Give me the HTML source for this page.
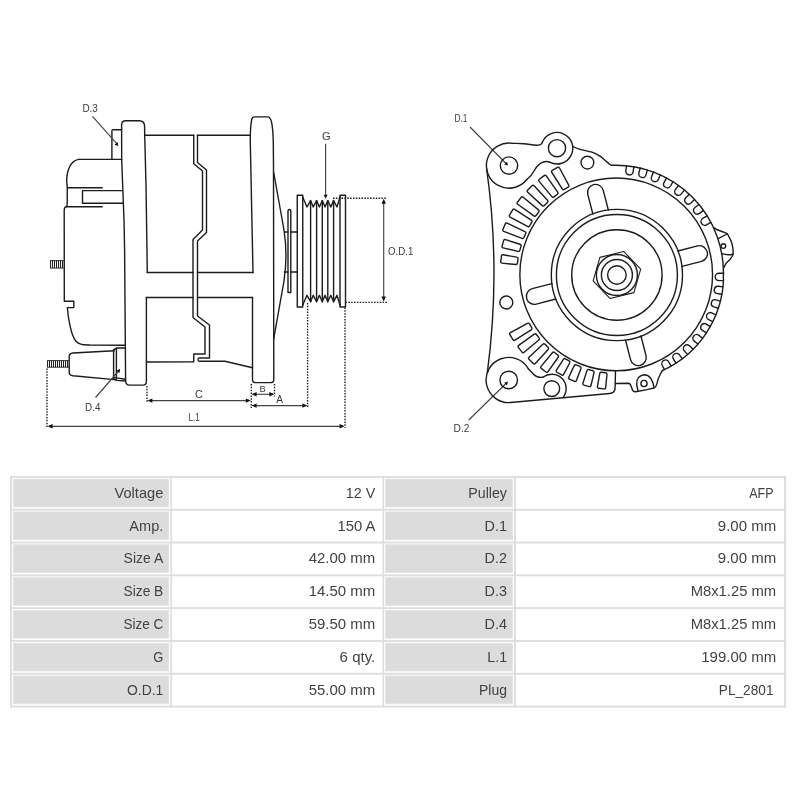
<!DOCTYPE html>
<html><head><meta charset="utf-8"><title>Alternator</title>
<style>
html,body{margin:0;padding:0;background:#fff;}
body{width:800px;height:800px;overflow:hidden;font-family:"Liberation Sans",sans-serif;}
svg{display:block;filter:grayscale(1);}
</style></head><body>
<svg width="800" height="800" viewBox="0 0 800 800">
<rect width="800" height="800" fill="#fff"/>
<g stroke="#1c1c1c" stroke-width="1.4" fill="none" stroke-linejoin="round" stroke-linecap="round">
<path d="M147.3,272.5 L146,185 L144.7,135 L144.6,126.5 Q144.4,120.8 139.4,120.8 L125.6,120.8 Q121.7,120.8 121.6,125 L121.7,160 L124,220 L124.6,250 L125.6,381 Q125.7,385.1 129.6,385.1 L143,385.1 Q146.4,385.1 146.4,381.5 L146.4,297.5" />
<path d="M144.7,135.2 L193.75,135.2 M197.5,135.2 L250.4,135.2" />
<path d="M147.3,272.5 L193,272.5 M197.5,272.5 L253,272.5" />
<path d="M146.3,297.5 L193,297.5 M197.5,297.5 L252.5,297.5" />
<path d="M193.75,135.2 L193.75,163.75 L202.5,171 L202.5,230 L193,239.5 L193,317.5 L205,327 L205,354 L193.75,354 L193.75,361.7 L146.3,362" />
<path d="M197.5,135.2 L197.5,162.5 L206.5,170 L206.5,232.5 L197.5,241 L197.5,316 L209.5,325 L209.5,358 L199.5,358 Q198,358 198,359.7 Q198,361.3 199.5,361.3 L225,361.3 L252.5,367.7" />
<path d="M253,272.5 L250.3,142 Q250.1,128 251.7,119.6 Q252.2,116.9 254.8,116.9 L267.4,116.9 Q270.2,117 271.4,121.5 Q273,128 273.3,142 L273.5,165 L273.8,379.4 Q273.8,382.6 270.4,382.6 L255.8,382.6 Q252.5,382.6 252.5,379.4 L252.5,297.5" />
<path d="M273.6,172 L284.0,230 Q287.9,255.5 284.0,281 L273.7,339" />
<path d="M288,292.5 L288,211 Q288,209.5 289.4,209.5 Q290.8,209.5 290.8,211 L290.8,292.5 Z" />
<path d="M284.6,232 L288,232 M290.8,232 L297.25,232 M284.4,272 L288,272 M290.8,272 L297.25,272" />
<path d="M302.75,197.5 L302.75,195.25 L297.25,195.25 L297.25,307 L302.75,307 L302.75,304.5" />
<path d="M340,197.5 L340,195.25 L345.5,195.25 L345.5,307 L340,307 L340,304.5" />
<path d="M302.75,197.2 L307,207 L310.6,200.6 L313.2,207 L316.6,200.6 L319.4,207 L322.3,200.6 L325,207 L327.8,200.6 L330.8,207 L333.6,200.6 L337,207 L340,197.2" />
<path d="M302.75,305 L307,295.3 L310.6,301.7 L313.2,295.3 L316.6,301.7 L319.4,295.3 L322.3,301.7 L325,295.3 L327.8,301.7 L330.8,295.3 L333.6,301.7 L337,295.3 L340,305" />
<path d="M302.75,197.5 L302.75,304.5 M340,197.5 L340,304.5" />
<path d="M310.6,200.6 L310.6,301.7" />
<path d="M316.6,200.6 L316.6,301.7" />
<path d="M322.3,200.6 L322.3,301.7" />
<path d="M327.8,200.6 L327.8,301.7" />
<path d="M333.6,200.6 L333.6,301.7" />
<path d="M121.6,159.4 L78.6,159.4" />
<path d="M78.60,159.40 C76.87,159.77 75.03,160.50 73.60,161.60 C72.17,162.70 71.00,164.18 70.00,166.00 C69.00,167.82 68.15,170.17 67.60,172.50 C67.05,174.83 66.75,177.42 66.70,180.00 C66.65,182.58 67.20,185.67 67.30,188.00  L67.2,205 Q67.1,206.5 66,206.7 Q64.3,207.2 64.2,210.5 L64.3,301.2 L73.8,301.2 L73.8,307.6 L67.4,307.6" />
<path d="M67.40,307.60 C67.57,309.17 67.97,314.02 68.40,317.00 C68.83,319.98 69.33,322.58 70.00,325.50 C70.67,328.42 71.42,331.87 72.40,334.50 C73.38,337.13 74.38,339.65 75.90,341.30 C77.42,342.95 79.15,343.78 81.50,344.40 C83.85,345.02 86.92,344.88 90.00,345.00  L125.3,345.2" />
<path d="M67.3,187.8 L102.2,187.8 M66,206.7 L102.2,206.7" />
<path d="M122.6,190.6 L82.5,190.6 L82.5,203.2 L123.2,203.2" />
<path d="M111.9,159.4 L111.9,131 Q111.7,129.8 113,129.8 L121.8,129.8" />
<path d="M69.2,356.6 Q69.3,353.4 73,353 L114.3,350.7 M69.2,372.4 Q69.3,375.2 73,375.7 L114.3,379.6 M69.2,356.6 L69.2,372.4" />
<path d="M113.6,349.8 L113.6,378.8 M116.4,348 L116.4,380.2 M113.6,349.8 L116.4,348 L125.3,348 M113.6,378.9 L116.4,380.4 L125.6,381 M114.8,377.6 L125.5,379.2" />
</g>
<g stroke="#222" fill="none">
<path d="M50,260.6 L63.8,260.6 M50,268.1 L63.8,268.1" stroke-width="0.9"/>
<path d="M50.50,260.6 L50.50,268.1 M52.50,260.6 L52.50,268.1 M54.50,260.6 L54.50,268.1 M56.50,260.6 L56.50,268.1 M58.50,260.6 L58.50,268.1 M60.50,260.6 L60.50,268.1 M62.50,260.6 L62.50,268.1 " stroke-width="1.05"/>
<path d="M47.2,360.6 L69.2,360.6 M47.2,367.2 L69.2,367.2" stroke-width="0.9"/>
<path d="M47.50,360.6 L47.50,367.2 M49.50,360.6 L49.50,367.2 M51.50,360.6 L51.50,367.2 M53.50,360.6 L53.50,367.2 M55.50,360.6 L55.50,367.2 M57.50,360.6 L57.50,367.2 M59.50,360.6 L59.50,367.2 M61.50,360.6 L61.50,367.2 M63.50,360.6 L63.50,367.2 M65.50,360.6 L65.50,367.2 M67.50,360.6 L67.50,367.2 " stroke-width="1.05"/>
</g>
<g stroke="#1a1a1a" stroke-width="1.35" fill="none" stroke-dasharray="1.5 1.35">
<path d="M47,368.5 L47,428" />
<path d="M345,307.5 L345,428" />
<path d="M147,386 L147,402.5" />
<path d="M251.3,384 L251.3,408" />
<path d="M274.5,384 L274.5,396.5" />
<path d="M307.6,303 L307.6,408" />
<path d="M333,198.2 L386,198.2" />
<path d="M345.5,302.3 L387,302.3" />
</g>
<g stroke="#444" stroke-width="1.15" fill="none">
<path d="M49,426.3 L343,426.3" />
<path d="M149,400.6 L249,400.6" />
<path d="M253,394.3 L273,394.3" />
<path d="M253,405.6 L306,405.6" />
<path d="M383.7,201 L383.7,299" />
<path d="M325.6,143.8 L325.6,196" />
<path d="M92.5,116.4 L117.2,144.2" />
<path d="M95.5,397.5 L119,370.5" />
<path d="M470,127 L506.5,164" />
<path d="M468.8,420 L506.5,383" />
</g>
<path d="M47.60,426.30 L52.60,424.10 L52.60,428.50 Z" fill="#111"/>
<path d="M344.60,426.30 L339.60,428.50 L339.60,424.10 Z" fill="#111"/>
<path d="M147.40,400.60 L152.40,398.40 L152.40,402.80 Z" fill="#111"/>
<path d="M250.80,400.60 L245.80,402.80 L245.80,398.40 Z" fill="#111"/>
<path d="M251.60,394.30 L256.60,392.10 L256.60,396.50 Z" fill="#111"/>
<path d="M274.30,394.30 L269.30,396.50 L269.30,392.10 Z" fill="#111"/>
<path d="M251.60,405.60 L256.60,403.40 L256.60,407.80 Z" fill="#111"/>
<path d="M307.40,405.60 L302.40,407.80 L302.40,403.40 Z" fill="#111"/>
<path d="M383.70,198.80 L385.90,203.80 L381.50,203.80 Z" fill="#111"/>
<path d="M383.70,301.60 L381.50,296.60 L385.90,296.60 Z" fill="#111"/>
<path d="M325.60,198.80 L323.60,194.80 L327.60,194.80 Z" fill="#111"/>
<path d="M118.40,146.00 L114.50,144.66 L117.48,141.99 Z" fill="#111"/>
<path d="M120.20,369.00 L119.42,373.04 L116.35,370.47 Z" fill="#111"/>
<path d="M508.00,165.60 L504.27,164.47 L507.00,161.83 Z" fill="#111"/>
<path d="M508.00,381.60 L506.91,385.34 L504.24,382.63 Z" fill="#111"/>
<g font-family="Liberation Sans, sans-serif" opacity="0.999">
<text x="82.4" y="111.6" font-size="10.4" textLength="15.4" lengthAdjust="spacingAndGlyphs" fill="#3a3a3a">D.3</text>
<text x="85" y="410.8" font-size="10.4" textLength="15.4" lengthAdjust="spacingAndGlyphs" fill="#3a3a3a">D.4</text>
<text x="322" y="139.6" font-size="10.4" textLength="8.6" lengthAdjust="spacingAndGlyphs" fill="#3a3a3a">G</text>
<text x="195" y="397.5" font-size="11.6" textLength="7.8" lengthAdjust="spacingAndGlyphs" fill="#3a3a3a">C</text>
<text x="259.5" y="392.1" font-size="9.8" textLength="6.2" lengthAdjust="spacingAndGlyphs" fill="#3a3a3a">B</text>
<text x="276.2" y="403.3" font-size="10.6" textLength="6.8" lengthAdjust="spacingAndGlyphs" fill="#3a3a3a">A</text>
<text x="188.6" y="421.2" font-size="11.8" textLength="11.2" lengthAdjust="spacingAndGlyphs" fill="#3a3a3a">L.1</text>
<text x="387.9" y="254.6" font-size="10.8" textLength="25.4" lengthAdjust="spacingAndGlyphs" fill="#3a3a3a">O.D.1</text>
<text x="454.4" y="121.6" font-size="10.4" textLength="13" lengthAdjust="spacingAndGlyphs" fill="#3a3a3a">D.1</text>
<text x="453.6" y="431.8" font-size="10.8" textLength="15.8" lengthAdjust="spacingAndGlyphs" fill="#3a3a3a">D.2</text>
</g>
<g stroke="#1c1c1c" stroke-width="1.4" fill="none" stroke-linejoin="round" stroke-linecap="round">
<circle cx="616.9" cy="275.0" r="9.3"/>
<circle cx="616.9" cy="275.0" r="15.5"/>
<circle cx="616.9" cy="275.0" r="20.5"/>
<circle cx="616.9" cy="275.0" r="45.2"/>
<circle cx="616.9" cy="275.0" r="60.5"/>
<circle cx="616.9" cy="275.0" r="65.6"/>
<path d="M623.65,251.45 L640.67,269.07 L633.92,292.62 L610.15,298.55 L593.13,280.93 L599.88,257.38 Z" stroke-width="1.1"/>
<circle cx="616.2" cy="274.4" r="96.35"/>
<path d="M681.94,266.44 L701.58,261.36 A8,8 0 0 0 697.58,245.87 L677.93,250.95" />
<path d="M625.46,340.04 L630.54,359.68 A8,8 0 0 0 646.03,355.68 L640.95,336.03" />
<path d="M551.86,283.56 L532.22,288.64 A8,8 0 0 0 536.22,304.13 L555.87,299.05" />
<path d="M608.34,209.96 L603.26,190.32 A8,8 0 0 0 587.77,194.32 L592.85,213.97" />
<path d="M564.34,189.39 Q563.05,190.15 562.25,188.88 L551.85,172.50 Q551.05,171.23 552.34,170.48 L557.53,167.44 Q558.82,166.69 559.53,168.01 L568.70,185.11 Q569.41,186.43 568.11,187.19 Z" />
<path d="M553.96,196.84 Q552.77,197.75 551.81,196.60 L539.16,181.36 Q538.20,180.21 539.39,179.29 L544.17,175.62 Q545.36,174.70 546.23,175.92 L557.73,192.04 Q558.60,193.26 557.41,194.18 Z" />
<path d="M544.41,205.59 Q543.35,206.66 542.25,205.63 L527.75,192.16 Q526.65,191.14 527.71,190.07 L531.97,185.81 Q533.04,184.75 534.06,185.85 L547.53,200.35 Q548.56,201.45 547.49,202.51 Z" />
<path d="M536.08,215.51 Q535.16,216.70 533.94,215.83 L517.74,204.27 Q516.52,203.40 517.43,202.21 L521.12,197.43 Q522.03,196.24 523.19,197.20 L538.50,209.91 Q539.65,210.87 538.74,212.06 Z" />
<path d="M529.61,225.90 Q528.84,227.19 527.52,226.47 L510.12,217.03 Q508.81,216.31 509.57,215.02 L512.63,209.84 Q513.39,208.55 514.66,209.36 L531.32,220.06 Q532.58,220.87 531.82,222.16 Z" />
<path d="M524.01,237.55 Q523.42,238.93 522.02,238.39 L503.73,231.33 Q502.33,230.79 502.92,229.41 L505.29,223.90 Q505.88,222.52 507.23,223.16 L524.95,231.54 Q526.31,232.18 525.72,233.56 Z" />
<path d="M519.83,250.33 Q519.43,251.78 517.97,251.43 L503.18,247.91 Q501.72,247.56 502.12,246.12 L503.64,240.64 Q504.04,239.20 505.47,239.65 L519.96,244.25 Q521.39,244.70 520.99,246.15 Z" />
<path d="M517.44,263.21 Q517.23,264.70 515.74,264.55 L502.01,263.13 Q500.52,262.97 500.73,261.49 L501.50,255.97 Q501.71,254.48 503.19,254.75 L516.78,257.17 Q518.25,257.43 518.04,258.91 Z" />
<path d="M531.72,327.69 Q532.49,328.98 531.22,329.79 L514.96,340.19 Q513.70,341.00 512.94,339.71 L509.90,334.56 Q509.14,333.26 510.46,332.55 L527.44,323.37 Q528.76,322.66 529.52,323.95 Z" />
<path d="M539.08,337.89 Q539.99,339.07 538.84,340.04 L524.09,352.33 Q522.94,353.29 522.02,352.10 L518.38,347.38 Q517.46,346.19 518.68,345.32 L534.29,334.14 Q535.51,333.27 536.43,334.46 Z" />
<path d="M548.09,347.36 Q549.15,348.42 548.13,349.52 L535.32,363.41 Q534.30,364.51 533.24,363.46 L529.03,359.28 Q527.97,358.22 529.06,357.20 L542.86,344.28 Q543.96,343.26 545.02,344.32 Z" />
<path d="M557.93,355.09 Q559.12,356.00 558.25,357.23 L547.97,371.64 Q547.10,372.86 545.91,371.94 L541.31,368.40 Q540.12,367.48 541.08,366.33 L552.38,352.71 Q553.34,351.56 554.53,352.47 Z" />
<path d="M569.11,360.96 Q570.40,361.72 569.69,363.04 L563.60,374.41 Q562.89,375.73 561.59,374.98 L556.95,372.26 Q555.65,371.51 556.46,370.24 L563.37,359.35 Q564.17,358.08 565.47,358.84 Z" />
<path d="M580.15,366.56 Q581.53,367.14 580.99,368.54 L576.40,380.49 Q575.87,381.89 574.49,381.31 L569.53,379.19 Q568.15,378.60 568.79,377.25 L574.24,365.66 Q574.88,364.31 576.26,364.89 Z" />
<path d="M592.91,370.70 Q594.36,371.09 594.02,372.55 L590.98,385.50 Q590.64,386.96 589.19,386.57 L583.96,385.13 Q582.51,384.74 582.96,383.31 L586.94,370.61 Q587.38,369.18 588.83,369.58 Z" />
<path d="M605.63,372.81 Q607.12,373.01 606.97,374.51 L605.66,387.64 Q605.51,389.13 604.02,388.93 L598.67,388.20 Q597.18,387.99 597.44,386.51 L599.71,373.51 Q599.96,372.03 601.45,372.24 Z" />
<path d="M611.77,165.32 A107.56,107.56 0 0 1 723.31,278.43" />
<path d="M723.54,279.05 A104.5,104.5 0 0 1 662.27,370.57" />
<path d="M633.84,166.75 L633.17,171.74 A3.7,3.7 0 0 1 625.83,170.76 L626.50,165.76" />
<path d="M647.35,169.94 L646.05,174.81 A3.7,3.7 0 0 1 638.90,172.89 L640.21,168.02" />
<path d="M660.31,174.84 L658.39,179.49 A3.7,3.7 0 0 1 651.55,176.67 L653.47,172.01" />
<path d="M673.00,181.65 L670.47,186.00 A3.7,3.7 0 0 1 664.07,182.29 L666.59,177.94" />
<path d="M684.45,189.91 L681.38,193.90 A3.7,3.7 0 0 1 675.51,189.39 L678.59,185.40" />
<path d="M694.58,199.46 L691.01,203.02 A3.7,3.7 0 0 1 685.79,197.78 L689.35,194.22" />
<path d="M703.46,210.33 L699.46,213.39 A3.7,3.7 0 0 1 694.96,207.52 L698.95,204.45" />
<path d="M710.87,222.31 L706.51,224.82 A3.7,3.7 0 0 1 702.81,218.41 L707.18,215.90" />
<path d="M723.47,280.66 L718.83,280.59 A3.7,3.7 0 0 1 718.94,273.19 L723.58,273.26" />
<path d="M721.89,294.21 L717.31,293.54 A3.7,3.7 0 0 1 718.38,286.22 L722.97,286.89" />
<path d="M718.31,308.23 L713.86,306.93 A3.7,3.7 0 0 1 715.93,299.83 L720.38,301.13" />
<path d="M712.87,321.52 L708.64,319.62 A3.7,3.7 0 0 1 711.67,312.87 L715.90,314.77" />
<path d="M706.39,332.86 L702.43,330.45 A3.7,3.7 0 0 1 706.27,324.13 L710.23,326.54" />
<path d="M697.87,344.07 L694.27,341.15 A3.7,3.7 0 0 1 698.93,335.40 L702.53,338.32" />
<path d="M687.54,354.37 L684.38,350.98 A3.7,3.7 0 0 1 689.80,345.94 L692.95,349.33" />
<path d="M676.11,362.98 L673.45,359.18 A3.7,3.7 0 0 1 679.51,354.93 L682.17,358.72" />
<path d="M664.42,369.56 L662.27,365.46 A3.7,3.7 0 0 1 668.82,362.01 L670.97,366.12" />
<path d="M714.1,227.9 Q717,230 720.6,231 L726.3,233.2 Q727.6,233.8 728.1,235 L730.9,240.6 Q732.8,246 733,249 L733.1,253.6 Q733,255 732,256.6 L730.2,259.2 L726.1,263.3 Q724.8,265.4 724.0,267.6" />
<path d="M718.2,238.55 L727.5,233.75 M722,253.7 Q727.5,255.6 733,254.2" />
<circle cx="723.4" cy="246.1" r="2.3"/>
<circle cx="509" cy="165.6" r="8.7"/>
<circle cx="557" cy="148.2" r="8.6"/>
<circle cx="587.4" cy="162.6" r="6.4"/>
<circle cx="508.7" cy="380" r="8.8"/>
<circle cx="551.75" cy="388.6" r="7.9"/>
<circle cx="506.3" cy="302.5" r="6.5"/>
<circle cx="644" cy="383.5" r="3.1"/>
<path d="M512.92,143.34 A22.6,22.6 0 1 0 526.81,179.51" />
<path d="M512.92,143.34 C515.75,143.45 520.15,143.39 524.00,143.70 C527.85,144.01 533.17,145.12 536.00,145.20 C538.83,145.28 539.94,144.69 541.00,144.20 C542.06,143.71 541.70,143.31 542.35,142.28 " />
<path d="M542.35,142.28 A15.8,15.8 0 1 1 549.58,162.15" />
<path d="M526.81,179.51 Q531.5,176 534,171 Q538,163.5 543.5,162 Q547,161 549.58,162.15" />
<path d="M572.70,146.20 C574.53,147.58 576.78,148.30 580.00,149.30 C583.22,150.30 588.67,151.05 592.00,152.20 C595.33,153.35 597.42,154.50 600.00,156.20 C602.58,157.90 605.54,160.88 607.50,162.40 C609.46,163.92 609.75,164.84 611.77,165.32 " />
<path d="M486.62,168.75 Q501,270 487.33,372.64" />
<path d="M528.27,368.70 A22.6,22.6 0 1 0 510.67,402.51" />
<path d="M528.27,368.70 Q531,371.5 533.5,374.2 Q537,378 542.88,377.25" />
<path d="M542.88,377.25 A14.4,14.4 0 0 1 563.25,397.27" />
<path d="M510.67,402.51 L609.8,393.5 Q614.6,393 615.1,388.4 L615.5,370.8" />
<path d="M615.4,383.5 L628,383.3 Q630.3,383.4 631,386 L632.5,390 Q633.2,391.9 635.5,391.8 L647,389.6 L654,388 Q656.4,386.6 656.8,384 Q657.6,379.5 660.4,374 L662.3,370.6" />
<path d="M638,391.2 L636.7,384.5 Q636,376 644.3,374.7 Q652,375 654,387.6" />
</g>

<rect x="10" y="476.00" width="776.2" height="1.9" fill="#dedede"/>
<rect x="10" y="508.80" width="776.2" height="1.9" fill="#dedede"/>
<rect x="10" y="541.60" width="776.2" height="1.9" fill="#dedede"/>
<rect x="10" y="574.40" width="776.2" height="1.9" fill="#dedede"/>
<rect x="10" y="607.20" width="776.2" height="1.9" fill="#dedede"/>
<rect x="10" y="640.00" width="776.2" height="1.9" fill="#dedede"/>
<rect x="10" y="672.80" width="776.2" height="1.9" fill="#dedede"/>
<rect x="10" y="705.60" width="776.2" height="1.9" fill="#dedede"/>
<rect x="10" y="476.0" width="2" height="231.50" fill="#dedede"/>
<rect x="170.3" y="476.0" width="1.7" height="231.50" fill="#dedede"/>
<rect x="382.5" y="476.0" width="1.6" height="231.50" fill="#dedede"/>
<rect x="514" y="476.0" width="2" height="231.50" fill="#dedede"/>
<rect x="784" y="476.0" width="2.2" height="231.50" fill="#dedede"/>
<rect x="13.3" y="479.10" width="155.50" height="27.9" fill="#dcdcdc" stroke="#e4e4e4" stroke-width="0.8"/>
<rect x="385.5" y="479.10" width="127.10" height="27.9" fill="#dcdcdc" stroke="#e4e4e4" stroke-width="0.8"/>
<rect x="13.3" y="511.90" width="155.50" height="27.9" fill="#dcdcdc" stroke="#e4e4e4" stroke-width="0.8"/>
<rect x="385.5" y="511.90" width="127.10" height="27.9" fill="#dcdcdc" stroke="#e4e4e4" stroke-width="0.8"/>
<rect x="13.3" y="544.70" width="155.50" height="27.9" fill="#dcdcdc" stroke="#e4e4e4" stroke-width="0.8"/>
<rect x="385.5" y="544.70" width="127.10" height="27.9" fill="#dcdcdc" stroke="#e4e4e4" stroke-width="0.8"/>
<rect x="13.3" y="577.50" width="155.50" height="27.9" fill="#dcdcdc" stroke="#e4e4e4" stroke-width="0.8"/>
<rect x="385.5" y="577.50" width="127.10" height="27.9" fill="#dcdcdc" stroke="#e4e4e4" stroke-width="0.8"/>
<rect x="13.3" y="610.30" width="155.50" height="27.9" fill="#dcdcdc" stroke="#e4e4e4" stroke-width="0.8"/>
<rect x="385.5" y="610.30" width="127.10" height="27.9" fill="#dcdcdc" stroke="#e4e4e4" stroke-width="0.8"/>
<rect x="13.3" y="643.10" width="155.50" height="27.9" fill="#dcdcdc" stroke="#e4e4e4" stroke-width="0.8"/>
<rect x="385.5" y="643.10" width="127.10" height="27.9" fill="#dcdcdc" stroke="#e4e4e4" stroke-width="0.8"/>
<rect x="13.3" y="675.90" width="155.50" height="27.9" fill="#dcdcdc" stroke="#e4e4e4" stroke-width="0.8"/>
<rect x="385.5" y="675.90" width="127.10" height="27.9" fill="#dcdcdc" stroke="#e4e4e4" stroke-width="0.8"/>
<g font-family="Liberation Sans, sans-serif" font-size="14.2" fill="#424242" text-anchor="end" opacity="0.999">
<text x="163.3" y="497.80" textLength="48.75" lengthAdjust="spacingAndGlyphs">Voltage</text>
<text x="375.3" y="497.80" textLength="29.55" lengthAdjust="spacingAndGlyphs">12 V</text>
<text x="507" y="497.80" textLength="38.75" lengthAdjust="spacingAndGlyphs">Pulley</text>
<text x="773.5" y="497.80" textLength="24.22" lengthAdjust="spacingAndGlyphs">AFP</text>
<text x="163.3" y="530.60" textLength="33.92" lengthAdjust="spacingAndGlyphs">Amp.</text>
<text x="375.3" y="530.60" textLength="37.81" lengthAdjust="spacingAndGlyphs">150 A</text>
<text x="507" y="530.60" textLength="22.41" lengthAdjust="spacingAndGlyphs">D.1</text>
<text x="776.2" y="530.60" textLength="58.36" lengthAdjust="spacingAndGlyphs">9.00 mm</text>
<text x="163.3" y="563.40" textLength="39.7" lengthAdjust="spacingAndGlyphs">Size A</text>
<text x="375.3" y="563.40" textLength="66.63" lengthAdjust="spacingAndGlyphs">42.00 mm</text>
<text x="507" y="563.40" textLength="22.41" lengthAdjust="spacingAndGlyphs">D.2</text>
<text x="776.2" y="563.40" textLength="58.36" lengthAdjust="spacingAndGlyphs">9.00 mm</text>
<text x="163.3" y="596.20" textLength="39.73" lengthAdjust="spacingAndGlyphs">Size B</text>
<text x="375.3" y="596.20" textLength="66.63" lengthAdjust="spacingAndGlyphs">14.50 mm</text>
<text x="507" y="596.20" textLength="22.41" lengthAdjust="spacingAndGlyphs">D.3</text>
<text x="776.2" y="596.20" textLength="85.53" lengthAdjust="spacingAndGlyphs">M8x1.25 mm</text>
<text x="163.3" y="629.00" textLength="39.89" lengthAdjust="spacingAndGlyphs">Size C</text>
<text x="375.3" y="629.00" textLength="66.63" lengthAdjust="spacingAndGlyphs">59.50 mm</text>
<text x="507" y="629.00" textLength="22.41" lengthAdjust="spacingAndGlyphs">D.4</text>
<text x="776.2" y="629.00" textLength="85.53" lengthAdjust="spacingAndGlyphs">M8x1.25 mm</text>
<text x="163.3" y="661.80" textLength="10.08" lengthAdjust="spacingAndGlyphs">G</text>
<text x="375.3" y="661.80" textLength="35.69" lengthAdjust="spacingAndGlyphs">6 qty.</text>
<text x="507" y="661.80" textLength="19.64" lengthAdjust="spacingAndGlyphs">L.1</text>
<text x="776.2" y="661.80" textLength="74.89" lengthAdjust="spacingAndGlyphs">199.00 mm</text>
<text x="163.3" y="694.60" textLength="36.23" lengthAdjust="spacingAndGlyphs">O.D.1</text>
<text x="375.3" y="694.60" textLength="66.63" lengthAdjust="spacingAndGlyphs">55.00 mm</text>
<text x="507" y="694.60" textLength="27.94" lengthAdjust="spacingAndGlyphs">Plug</text>
<text x="773.5" y="694.60" textLength="54.66" lengthAdjust="spacingAndGlyphs">PL_2801</text>
</g>
</svg>
</body></html>
